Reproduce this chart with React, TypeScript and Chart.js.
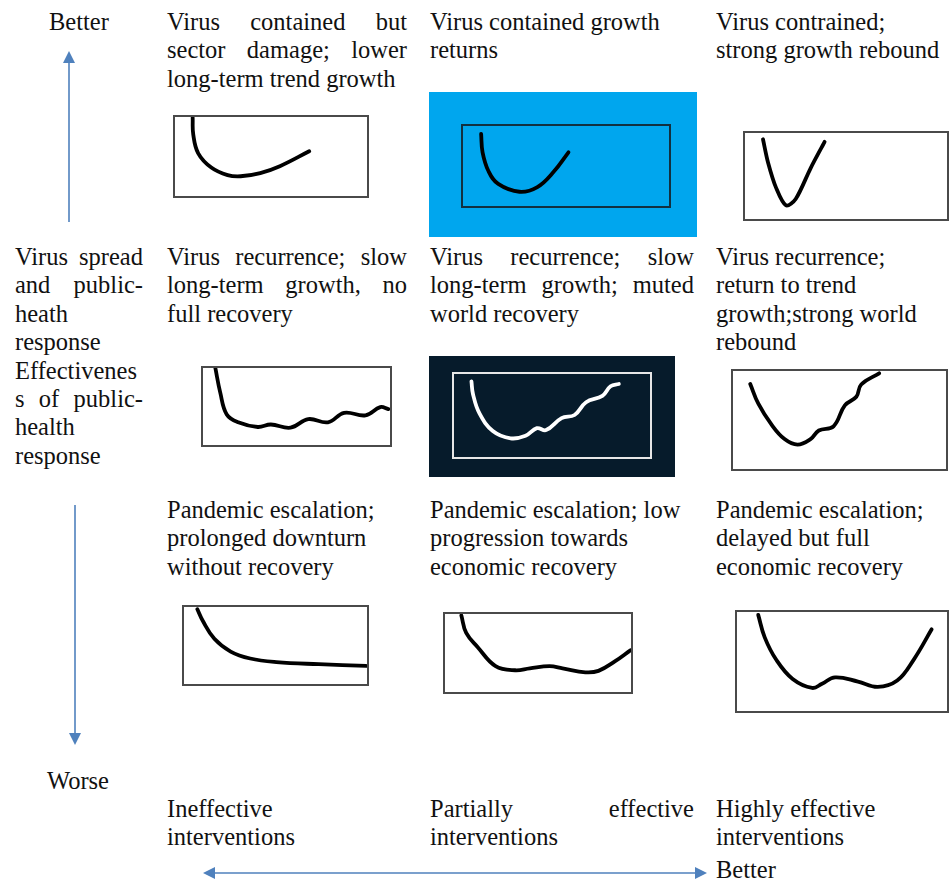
import React, { useEffect, useRef } from "react";
import { Chart, registerables } from "chart.js";

Chart.register(...registerables);

// ---- Curve data (x: % of box width, y: % of box height from bottom) ----
const containedDamageX = [9.2, 9.5, 12.1, 18.9, 27.4, 34.2, 44.4, 54.6, 69.9];
const containedDamageY = [99, 78, 54, 36, 26.5, 25, 29, 37.7, 56.6];

const containedGrowthX = [8.8, 9.5, 12.4, 17.1, 27.4, 36.1, 44.0, 51.2];
const containedGrowthY = [90.2, 67.1, 43.4, 27.6, 17.8, 23.7, 42.7, 67.1];

const containedReboundX = [8.9, 11.4, 15.4, 20.3, 25.1, 32.4, 39.4];
const containedReboundY = [92.7, 65.7, 36.2, 15.8, 23.3, 58.7, 89.7];

const recurrenceSlowX = [6.6, 9.2, 12.7, 18.8, 29.3, 36.3, 46.8, 56.3, 66.8, 75.5, 86.9, 94.8, 99.1];
const recurrenceSlowY = [100, 68.4, 39.7, 29.5, 23.4, 26.6, 22.5, 33.6, 29.5, 41.8, 38.5, 49.2, 46.7];

const recurrenceMutedX = [8.9, 9.7, 13.0, 19.8, 28.9, 36.5, 42.3, 47.0, 54.9, 61.5, 67.4, 75.7, 79.9, 84.1];
const recurrenceMutedY = [91.1, 75.7, 52.5, 31.3, 22.5, 25.5, 34.7, 32.4, 46.8, 50.6, 66.0, 73.7, 85.3, 88.0];

const recurrenceTrendX = [8.1, 11.9, 18.1, 24.2, 30.3, 36.4, 40.3, 47.2, 52.5, 57.9, 60.2, 68.6];
const recurrenceTrendY = [86.8, 66.6, 45.2, 30.5, 24.9, 30.5, 39.3, 43.6, 64.9, 73.7, 86.2, 97.6];

const escalationProlongedX = [7.3, 10.4, 16.6, 25.5, 36.2, 50.5, 73.6, 99.5];
const escalationProlongedY = [97.1, 81.4, 58.7, 42.1, 33.1, 28.5, 25.7, 23.5];

const escalationLowX = [8.8, 11.4, 17.6, 27.2, 37.7, 45.6, 56.2, 63.2, 75.5, 82.5, 91.3, 99.7];
const escalationLowY = [98.1, 75.7, 57.5, 33.2, 27.9, 30.4, 33.2, 30.4, 25.2, 27.1, 39.2, 53.5];

const escalationDelayedX = [10.1, 13.2, 18.7, 26.5, 35.8, 40.5, 46.7, 57.6, 67.0, 76.3, 84.1, 92.7];
const escalationDelayedY = [97.1, 74.4, 51.7, 32.3, 23.3, 27.5, 34.0, 29.7, 24.3, 30.7, 51.7, 82.5];

// ---- Layout ----
const FONT = "'Liberation Serif', 'Times New Roman', Tinos, serif";
const FS = 24.5;
const LINE = 28.4;

type MiniProps = {
  left: number; top: number; w: number; h: number;
  xs: number[]; ys: number[];
  line?: string; border?: string; tension?: number;
};

function MiniChart({ left, top, w, h, xs, ys, line = "#000", border = "#4a4a4a", tension = 0.4 }: MiniProps) {
  const ref = useRef<HTMLCanvasElement | null>(null);
  const bw = 2;
  const cw = w - 2 * bw;
  const ch = h - 2 * bw;
  useEffect(() => {
    if (!ref.current) return;
    const pts = xs.map((x, i) => ({ x, y: ys[i] }));
    const chart = new Chart(ref.current, {
      type: "line",
      data: {
        datasets: [
          {
            data: pts,
            borderColor: line,
            borderWidth: 3.8,
            pointRadius: 0,
            tension,
            fill: false,
            borderCapStyle: "round",
            borderJoinStyle: "round",
            clip: false as any,
          } as any,
        ],
      },
      options: {
        animation: false,
        responsive: false,
        maintainAspectRatio: false,
        devicePixelRatio: 1,
        events: [],
        layout: { padding: 0 },
        plugins: { legend: { display: false }, tooltip: { enabled: false } },
        scales: {
          x: { type: "linear", min: 0, max: 100, display: false },
          y: { type: "linear", min: 0, max: 100, display: false },
        },
      },
    });
    return () => chart.destroy();
  }, []);
  return (
    <div
      style={{
        position: "absolute", left, top, width: w, height: h, boxSizing: "border-box",
        border: `${bw}px solid ${border}`,
      }}
    >
      <canvas ref={ref} width={cw} height={ch} style={{ display: "block", width: cw, height: ch }} />
    </div>
  );
}

type Ln = { t: string; j?: boolean };
function TextBlock({ left, top, width, lines, lh = LINE }: { left: number; top: number; width?: number; lines: Ln[]; lh?: number }) {
  return (
    <div style={{ position: "absolute", left, top, width, fontFamily: FONT, fontSize: FS, lineHeight: `${lh}px`, color: "#111" }}>
      {lines.map((l, i) => (
        <div
          key={i}
          style={
            l.j
              ? { textAlign: "justify", textAlignLast: "justify", width }
              : { whiteSpace: "nowrap" }
          }
        >
          {l.t}
        </div>
      ))}
    </div>
  );
}

const L = (...a: string[]): Ln[] => a.map((t) => ({ t }));

export default function App() {
  useEffect(() => {
    document.body.style.margin = "0";
  }, []);
  const arrow = "#4f81bd";
  return (
    <div style={{ position: "absolute", left: 0, top: 0, width: 950, height: 884, background: "#fff", overflow: "hidden" }}>
      {/* backgrounds */}
      <div style={{ position: "absolute", left: 429, top: 92, width: 268, height: 145, background: "#00a6ee" }} />
      <div style={{ position: "absolute", left: 429, top: 356, width: 246, height: 121, background: "#061b2b" }} />

      {/* arrows */}
      <svg width={950} height={884} style={{ position: "absolute", left: 0, top: 0 }}>
        <line x1={69} y1={222} x2={69} y2={62} stroke={arrow} strokeWidth={1.6} />
        <polygon points="69,51 63,63 75,63" fill={arrow} />
        <line x1={75} y1={505} x2={75} y2={734} stroke={arrow} strokeWidth={1.6} />
        <polygon points="75,745 69,733 81,733" fill={arrow} />
        <line x1={212} y1={873} x2={698} y2={873} stroke={arrow} strokeWidth={1.6} />
        <polygon points="203,873 215,867 215,879" fill={arrow} />
        <polygon points="707,873 695,867 695,879" fill={arrow} />
      </svg>

      {/* text */}
      <TextBlock left={49} top={8} lines={L("Better")} />
      <TextBlock left={167} top={8} width={240} lines={[{ t: "Virus contained but", j: true }, { t: "sector damage; lower", j: true }, { t: "long-term trend growth" }]} />
      <TextBlock left={430} top={8} lines={L("Virus contained growth", "returns")} />
      <TextBlock left={716} top={8} lines={L("Virus contrained;", "strong growth rebound")} />

      <TextBlock
        left={15}
        top={243}
        width={128}
        lines={[
          { t: "Virus spread", j: true },
          { t: "and public-", j: true },
          { t: "heath" },
          { t: "response" },
          { t: "Effectivenes", j: true },
          { t: "s of public-", j: true },
          { t: "health" },
          { t: "response" },
        ]}
      />
      <TextBlock left={167} top={243} width={240} lines={[{ t: "Virus recurrence; slow", j: true }, { t: "long-term growth, no", j: true }, { t: "full recovery" }]} />
      <TextBlock left={430} top={243} width={264} lines={[{ t: "Virus recurrence; slow", j: true }, { t: "long-term growth; muted", j: true }, { t: "world recovery" }]} />
      <TextBlock left={716} top={243} lines={L("Virus recurrence;", "return to trend", "growth;strong world", "rebound")} />

      <TextBlock left={167} top={496} lines={L("Pandemic escalation;", "prolonged downturn", "without recovery")} />
      <TextBlock left={430} top={496} lines={L("Pandemic escalation; low", "progression towards", "economic recovery")} />
      <TextBlock left={716} top={496} lines={L("Pandemic escalation;", "delayed but full", "economic recovery")} />

      <TextBlock left={47} top={767} lines={L("Worse")} />
      <TextBlock left={167} top={795} lines={L("Ineffective", "interventions")} />
      <TextBlock left={430} top={795} width={264} lines={[{ t: "Partially effective", j: true }, { t: "interventions" }]} />
      <TextBlock left={716} top={795} lines={L("Highly effective", "interventions")} />
      <TextBlock left={716} top={856} lh={27} lines={L("Better")} />

      {/* mini charts */}
      <MiniChart left={173} top={115} w={196} h={83} xs={containedDamageX} ys={containedDamageY} />
      <MiniChart left={461} top={124} w={210} h={84} xs={containedGrowthX} ys={containedGrowthY} border="#123040" />
      <MiniChart left={743} top={131} w={206} h={90} xs={containedReboundX} ys={containedReboundY} tension={0.3} />
      <MiniChart left={201} top={366} w={191} h={81} xs={recurrenceSlowX} ys={recurrenceSlowY} />
      <MiniChart left={452} top={372} w={200} h={87} xs={recurrenceMutedX} ys={recurrenceMutedY} line="#ffffff" border="#e6e6e6" />
      <MiniChart left={731} top={369} w={217} h={102} xs={recurrenceTrendX} ys={recurrenceTrendY} />
      <MiniChart left={182} top={605} w={187} h={81} xs={escalationProlongedX} ys={escalationProlongedY} />
      <MiniChart left={443} top={612} w={190} h={82} xs={escalationLowX} ys={escalationLowY} />
      <MiniChart left={735} top={610} w={214} h={103} xs={escalationDelayedX} ys={escalationDelayedY} />
    </div>
  );
}
